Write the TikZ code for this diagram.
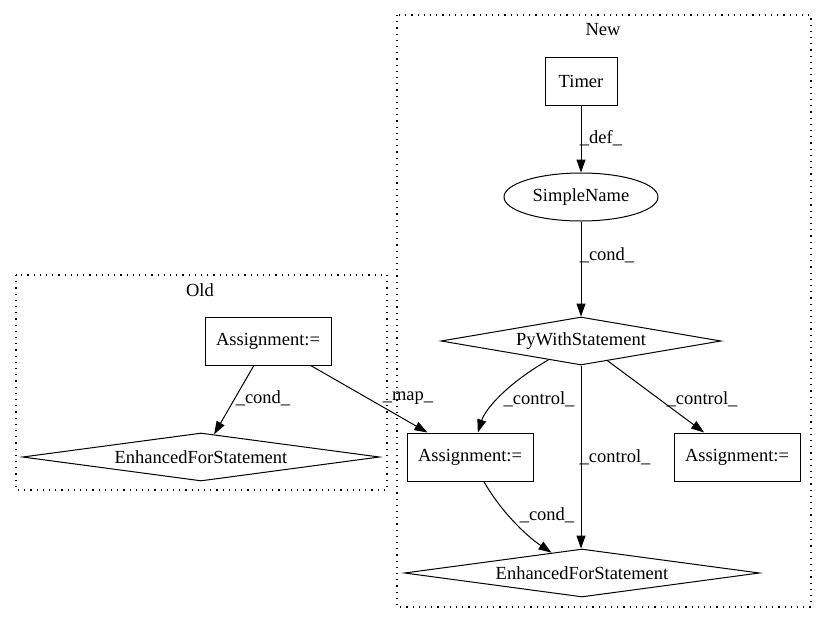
\documentclass[tikz,border=0pt]{standalone}
\usepackage{fontspec}
\setmainfont{Liberation Serif}
\usepackage{tikz}
\usetikzlibrary{shapes.geometric,arrows.meta,positioning}
\tikzstyle{box}=[draw,rectangle,line width=1pt,minimum width=126pt,minimum height=48pt,inner sep=0pt]
\tikzstyle{oval}=[draw,ellipse,line width=1pt,minimum width=154pt,minimum height=48pt,inner sep=0pt]
\tikzstyle{cond}=[draw,diamond,line width=1pt,inner sep=0pt,minimum height=48pt]
\tikzstyle{lbl}=[inner sep=0pt]
\tikzstyle{cluster}=[line width=1.2pt,dash pattern=on 1.2pt off 5pt]
\tikzstyle{edge}=[line width=1pt,-{Triangle[length=13pt,width=9pt]}]

\begin{document}
\begin{tikzpicture}[x=1pt,y=-1pt,font=\fontsize{18.5}{22}\selectfont]
\useasboundingbox (0,0) rectangle (827,624);
% clusters
\draw[cluster] (397,15) rectangle (811,607);
\node[lbl] (newlbl) at (603,30) {New};
\draw[cluster] (16,275) rectangle (387,490);
\node[lbl] (oldlbl) at (200,290) {Old};
% new side
\node [box,minimum width=72pt] (timer) at (581,81) {Timer};
\node [oval] (simplename) at (581,197) {SimpleName};
\node [cond,minimum width=280pt,shape aspect=5.8] (pywith) at (581,341) {PyWithStatement};
\node [box] (asgmid) at (470,457) {Assignment:=};
\node [box] (asgright) at (737,457) {Assignment:=};
\node [cond,minimum width=355pt,shape aspect=7.4] (efsnew) at (582,573) {EnhancedForStatement};
% old side
\node [box] (asgold) at (268,341) {Assignment:=};
\node [cond,minimum width=357pt,shape aspect=7.4] (efsold) at (201,457) {EnhancedForStatement};
% edges
\draw[edge] (timer) -- (simplename);
\node[lbl] at (601,138) {\_def\_};
\draw[edge] (simplename) -- (pywith);
\node[lbl] at (607,255) {\_cond\_};
\draw[edge] (pywith) .. controls (505,385) and (485,410) .. (asgmid);
\node[lbl] at (539,399) {\_control\_};
\draw[edge] (pywith.south) -- (pywith.south |- efsnew.north);
\node[lbl] at (615,457) {\_control\_};
\draw[edge] (pywith) -- (asgright);
\node[lbl] at (702,399) {\_control\_};
\draw[edge] (asgmid) .. controls (500,510) and (525,535) .. (efsnew);
\node[lbl] at (547,515) {\_cond\_};
\draw[edge] (asgold) -- (efsold);
\node[lbl] at (263,398) {\_cond\_};
\draw[edge] (asgold) -- (asgmid);
\node[lbl] at (408,398) {\_map\_};
\end{tikzpicture}
\end{document}
